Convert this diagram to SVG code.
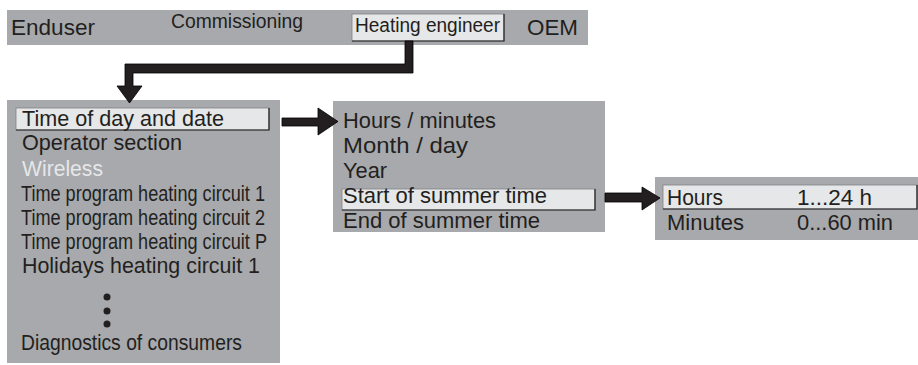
<svg xmlns="http://www.w3.org/2000/svg" width="918" height="365" viewBox="0 0 918 365">
<style>
.panel{fill:#a7a9ac}
.hl{fill:#e6e7e8;stroke:#808285;stroke-width:0.8}
.sh{fill:none;stroke:#231f20;stroke-width:1.2}
.t{font-family:"Liberation Sans",Arial,sans-serif;fill:#231f20;font-size:22.5px}
.s{font-size:20px}
.w{fill:#e6e7e8}
.conn{fill:#231f20;stroke:#000;stroke-width:0.8;stroke-linejoin:miter}
</style>
<rect width="918" height="365" fill="#fff"/>
<g id="userbar">
<rect class="panel" x="7" y="10" width="581" height="35"/>
<text class="t" x="11" y="35" textLength="84" lengthAdjust="spacingAndGlyphs">Enduser</text>
<text class="t s" x="171" y="28" textLength="132" lengthAdjust="spacingAndGlyphs">Commissioning</text>
<rect class="hl" x="352" y="14" width="152" height="27"/>
<polyline class="sh" points="504,14 504,41 352,41"/>
<text class="t s" x="355" y="32" textLength="145" lengthAdjust="spacingAndGlyphs">Heating engineer</text>
<text class="t" x="527" y="35" textLength="51" lengthAdjust="spacingAndGlyphs">OEM</text>
</g>
<g id="menu1">
<rect class="panel" x="7" y="100" width="273" height="263"/>
<rect class="hl" x="16" y="108" width="253" height="22"/>
<polyline class="sh" points="269,108 269,130 16,130"/>
<text class="t" x="22" y="126" textLength="202" lengthAdjust="spacingAndGlyphs">Time of day and date</text>
<text class="t" x="22" y="150" textLength="160" lengthAdjust="spacingAndGlyphs">Operator section</text>
<text class="t w" x="22" y="176" textLength="81" lengthAdjust="spacingAndGlyphs">Wireless</text>
<text class="t" x="21" y="201" textLength="244" lengthAdjust="spacingAndGlyphs">Time program heating circuit 1</text>
<text class="t" x="21" y="225" textLength="244" lengthAdjust="spacingAndGlyphs">Time program heating circuit 2</text>
<text class="t" x="21" y="249" textLength="246" lengthAdjust="spacingAndGlyphs">Time program heating circuit P</text>
<text class="t" x="22" y="273" textLength="238" lengthAdjust="spacingAndGlyphs">Holidays heating circuit 1</text>
<circle cx="107" cy="297" r="3.5" fill="#231f20"/>
<circle cx="107" cy="311" r="3.5" fill="#231f20"/>
<circle cx="107" cy="324" r="3.5" fill="#231f20"/>
<text class="t" x="21" y="350" textLength="221" lengthAdjust="spacingAndGlyphs">Diagnostics of consumers</text>
</g>
<g id="menu2">
<rect class="panel" x="333" y="101" width="272" height="131"/>
<text class="t" x="343" y="128" textLength="153" lengthAdjust="spacingAndGlyphs">Hours / minutes</text>
<text class="t" x="343" y="153" textLength="125" lengthAdjust="spacingAndGlyphs">Month / day</text>
<text class="t" x="343" y="178" textLength="44" lengthAdjust="spacingAndGlyphs">Year</text>
<rect class="hl" x="342" y="189" width="253" height="21"/>
<polyline class="sh" points="595,189 595,210 342,210"/>
<text class="t" x="343" y="203" textLength="204" lengthAdjust="spacingAndGlyphs">Start of summer time</text>
<text class="t" x="343" y="228" textLength="197" lengthAdjust="spacingAndGlyphs">End of summer time</text>
</g>
<g id="menu3">
<rect class="panel" x="655" y="177" width="263" height="63"/>
<rect class="hl" x="663" y="185" width="254" height="24"/>
<polyline class="sh" points="917,185 917,209 663,209"/>
<text class="t" x="667" y="205" textLength="56" lengthAdjust="spacingAndGlyphs">Hours</text>
<text class="t" x="797" y="205" textLength="75" lengthAdjust="spacingAndGlyphs">1...24 h</text>
<text class="t" x="667" y="230" textLength="77" lengthAdjust="spacingAndGlyphs">Minutes</text>
<text class="t" x="797" y="230" textLength="96" lengthAdjust="spacingAndGlyphs">0...60 min</text>
</g>
<g id="connectors">
<polygon class="conn" points="413,41 413,73 133,73 133,86 142,86 129.5,103 117,86 125,86 125,64 405,64 405,41"/>
<polygon class="conn" points="282,118 318,118 318,108 338,121.5 318,135 318,126 282,126"/>
<polygon class="conn" points="605,193 642,193 642,187 660,198 642,210 642,202 605,202"/>
</g>
</svg>
